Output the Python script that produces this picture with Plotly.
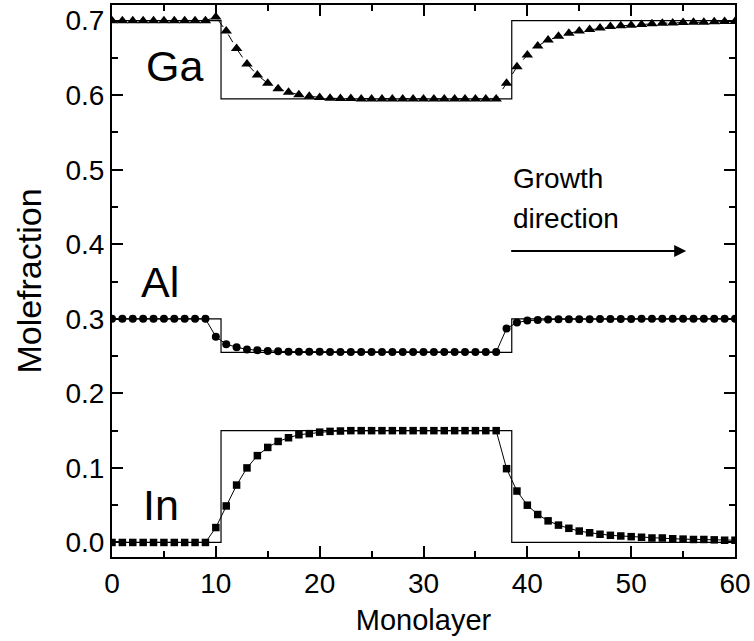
import plotly.graph_objects as go

# ---- data -------------------------------------------------------------
monolayer = list(range(0, 61))

in_frac = [0.0, 0.0, 0.0, 0.0, 0.0, 0.0, 0.0, 0.0, 0.0, 0.0,
           0.020, 0.049, 0.077, 0.100, 0.1165, 0.1275, 0.1355, 0.1405, 0.1445, 0.146,
           0.148, 0.149, 0.1495, 0.15, 0.15, 0.15, 0.15, 0.15, 0.15, 0.15,
           0.15, 0.15, 0.15, 0.15, 0.15, 0.15, 0.15, 0.15,
           0.099, 0.069, 0.050, 0.0375, 0.029, 0.0233, 0.019, 0.0153, 0.013, 0.011,
           0.0096, 0.0087, 0.0078, 0.007, 0.006, 0.006, 0.005, 0.0045, 0.004, 0.004,
           0.0035, 0.003, 0.003]

al_frac = [0.300, 0.300, 0.300, 0.300, 0.300, 0.300, 0.300, 0.300, 0.300, 0.300,
           0.276, 0.266, 0.262, 0.259, 0.258, 0.257, 0.2565, 0.256, 0.256, 0.256,
           0.256, 0.2555, 0.2555, 0.2555, 0.2555, 0.2555, 0.2555, 0.2555, 0.2555, 0.2555,
           0.2555, 0.2555, 0.2555, 0.2555, 0.2555, 0.2555, 0.2555, 0.2555,
           0.287, 0.295, 0.2976, 0.2985, 0.299, 0.2993, 0.2995, 0.2995, 0.2995, 0.2997,
           0.2997, 0.2998, 0.2998, 0.300, 0.300, 0.300, 0.300, 0.300, 0.300, 0.300,
           0.300, 0.300, 0.300]

ga_frac = [0.700, 0.700, 0.700, 0.700, 0.700, 0.700, 0.700, 0.700, 0.700, 0.700,
           0.705, 0.686, 0.6625, 0.642, 0.627, 0.616, 0.6085, 0.604, 0.6005, 0.5985,
           0.597, 0.596, 0.5955, 0.5955, 0.595, 0.595, 0.595, 0.595, 0.595, 0.595,
           0.595, 0.595, 0.595, 0.595, 0.595, 0.595, 0.595, 0.595,
           0.616, 0.638, 0.654, 0.666, 0.674, 0.679, 0.683, 0.686, 0.688, 0.690,
           0.692, 0.693, 0.694, 0.695, 0.696, 0.6965, 0.697, 0.6975, 0.698, 0.698,
           0.6985, 0.699, 0.699]

# nominal (abrupt) profiles
step_x = [0, 10.5, 38.5, 60]
ga_step = [0.70, 0.595, 0.70, 0.70]
al_step = [0.30, 0.255, 0.30, 0.30]
in_step = [0.0, 0.15, 0.0, 0.0]

x_ticks = [0, 10, 20, 30, 40, 50, 60]
y_ticks = [0.0, 0.1, 0.2, 0.3, 0.4, 0.5, 0.6, 0.7]

FONT = "Liberation Sans, Arial, sans-serif"

fig = go.Figure()

for ys in (ga_step, al_step, in_step):
    fig.add_trace(go.Scatter(x=step_x, y=ys, mode="lines", line_shape="hv",
                             line=dict(color="black", width=1.2),
                             hoverinfo="skip", showlegend=False))

fig.add_trace(go.Scatter(x=monolayer, y=ga_frac, mode="lines+markers",
                         line=dict(color="black", width=1, dash="dash"),
                         marker=dict(symbol="triangle-up", size=10, color="black"),
                         showlegend=False))
fig.add_trace(go.Scatter(x=monolayer, y=al_frac, mode="lines+markers",
                         line=dict(color="black", width=1),
                         marker=dict(symbol="circle", size=8, color="black"),
                         showlegend=False))
fig.add_trace(go.Scatter(x=monolayer, y=in_frac, mode="lines+markers",
                         line=dict(color="black", width=1),
                         marker=dict(symbol="square", size=7.5, color="black"),
                         showlegend=False))

fig.add_annotation(x=6.0, y=0.639, text="Ga", showarrow=False,
                   font=dict(family=FONT, size=43, color="black"))
fig.add_annotation(x=4.6, y=0.350, text="Al", showarrow=False,
                   font=dict(family=FONT, size=43, color="black"))
fig.add_annotation(x=4.7, y=0.050, text="In", showarrow=False,
                   font=dict(family=FONT, size=43, color="black"))
fig.add_annotation(x=38.4, y=0.488, text="Growth", showarrow=False, xanchor="left",
                   font=dict(family=FONT, size=28, color="black"))
fig.add_annotation(x=38.4, y=0.434, text="direction", showarrow=False, xanchor="left",
                   font=dict(family=FONT, size=28, color="black"))
fig.add_annotation(x=55.3, y=0.391, ax=38.3, ay=0.391, axref="x", ayref="y",
                   text="", showarrow=True, arrowhead=2, arrowsize=1.2,
                   arrowwidth=2, arrowcolor="black")

axis_common = dict(showline=True, linecolor="black", linewidth=2, mirror="allticks",
                   ticks="inside", ticklen=11, tickwidth=1.5, tickcolor="black",
                   showgrid=False, zeroline=False,
                   tickfont=dict(family=FONT, size=28, color="black"))

fig.update_xaxes(range=[0, 60], tickvals=x_ticks,
                 minor=dict(ticks="inside", ticklen=6, dtick=5, tick0=0,
                            tickcolor="black", tickwidth=1.5, showgrid=False),
                 title=dict(text="Monolayer", standoff=12,
                            font=dict(family=FONT, size=29, color="black")),
                 **axis_common)
fig.update_yaxes(range=[-0.0195, 0.721], tickvals=y_ticks, tickformat=".1f",
                 minor=dict(ticks="inside", ticklen=6, dtick=0.05, tick0=0,
                            tickcolor="black", tickwidth=1.5, showgrid=False),
                 title=dict(text="Molefraction", standoff=14,
                            font=dict(family=FONT, size=34, color="black")),
                 **axis_common)

fig.update_layout(width=754, height=641, plot_bgcolor="white", paper_bgcolor="white",
                  margin=dict(l=112, r=19, t=3, b=84), showlegend=False)

fig.write_html("out.html")
